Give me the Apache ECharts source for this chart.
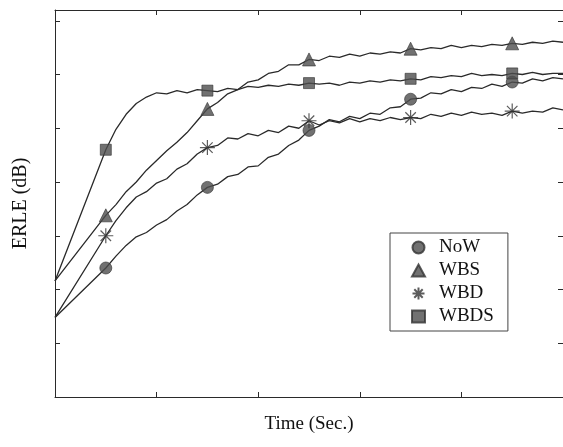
<!DOCTYPE html>
<html>
<head>
<meta charset="utf-8">
<script src="https://cdn.jsdelivr.net/npm/echarts@6/dist/echarts.min.js"></script>
<style>
  html, body { margin: 0; padding: 0; background: #fff; }
  #main { width: 563px; height: 447px; }
</style>
</head>
<body>
<div id="main"></div>
<script>
// ERLE (dB) against time (Sec.)
const markTimes = [0.5, 1.5, 2.5, 3.5, 4.5];

const now = [[0,7.4],[0.5,12.0],[0.6,13.1],[0.7,14.1],[0.8,14.9],[0.9,15.3],[1.0,16.0],[1.1,16.5],[1.2,17.3],[1.3,17.9],[1.4,18.8],[1.5,19.5],[1.6,19.8],[1.7,20.5],[1.8,20.7],[1.9,21.4],[2.0,21.5],[2.1,22.3],[2.2,22.6],[2.3,23.4],[2.4,23.9],[2.5,24.8],[2.6,25.2],[2.7,25.8],[2.8,25.6],[2.9,26.1],[3.0,25.9],[3.1,26.4],[3.2,26.3],[3.3,26.9],[3.4,27.0],[3.5,27.7],[3.6,27.8],[3.7,28.3],[3.8,28.2],[3.9,28.6],[4.0,28.4],[4.1,28.8],[4.2,28.7],[4.3,29.1],[4.4,28.9],[4.5,29.3],[4.6,29.2],[4.7,29.6],[4.8,29.4],[4.9,29.7],[5.0,29.6]];

const wbs = [[0,10.8],[0.5,16.9],[0.6,17.9],[0.7,19.1],[0.8,20.0],[0.9,21.1],[1.0,22.0],[1.1,22.9],[1.2,23.7],[1.3,24.6],[1.4,25.7],[1.5,26.8],[1.6,27.4],[1.7,28.2],[1.8,28.6],[1.9,29.3],[2.0,29.5],[2.1,30.1],[2.2,30.3],[2.3,30.9],[2.4,30.9],[2.5,31.4],[2.6,31.3],[2.7,31.7],[2.8,31.6],[2.9,31.9],[3.0,31.7],[3.1,32.0],[3.2,31.9],[3.3,32.1],[3.4,32.0],[3.5,32.4],[3.6,32.3],[3.7,32.5],[3.8,32.4],[3.9,32.7],[4.0,32.5],[4.1,32.7],[4.2,32.6],[4.3,32.8],[4.4,32.7],[4.5,32.9],[4.6,32.8],[4.7,33.0],[4.8,32.9],[4.9,33.1],[5.0,33.0]];

const wbd = [[0,7.4],[0.5,15.0],[0.6,16.4],[0.7,17.6],[0.8,18.6],[0.9,19.1],[1.0,19.9],[1.1,20.3],[1.2,21.2],[1.3,21.7],[1.4,22.6],[1.5,23.2],[1.6,23.4],[1.7,24.1],[1.8,24.0],[1.9,24.5],[2.0,24.3],[2.1,24.8],[2.2,24.6],[2.3,25.2],[2.4,25.0],[2.5,25.7],[2.6,25.3],[2.7,25.7],[2.8,25.5],[2.9,25.9],[3.0,25.6],[3.1,25.9],[3.2,25.7],[3.3,26.0],[3.4,25.8],[3.5,26.0],[3.6,25.9],[3.7,26.3],[3.8,26.1],[3.9,26.4],[4.0,26.2],[4.1,26.5],[4.2,26.3],[4.3,26.4],[4.4,26.2],[4.5,26.6],[4.6,26.4],[4.7,26.6],[4.8,26.5],[4.9,26.9],[5.0,26.7]];

const wbds = [[0,10.8],[0.5,23.0],[0.6,24.9],[0.7,26.3],[0.8,27.3],[0.9,27.9],[1.0,28.3],[1.1,28.2],[1.2,28.5],[1.3,28.3],[1.4,28.6],[1.5,28.5],[1.6,28.4],[1.7,28.7],[1.8,28.6],[1.9,28.9],[2.0,28.8],[2.1,29.0],[2.2,28.9],[2.3,29.1],[2.4,29.0],[2.5,29.2],[2.6,29.1],[2.7,29.2],[2.8,29.0],[2.9,29.3],[3.0,29.2],[3.1,29.4],[3.2,29.3],[3.3,29.5],[3.4,29.4],[3.5,29.6],[3.6,29.5],[3.7,29.8],[3.8,29.7],[3.9,29.9],[4.0,29.8],[4.1,30.1],[4.2,29.9],[4.3,30.0],[4.4,29.9],[4.5,30.1],[4.6,30.0],[4.7,30.2],[4.8,30.0],[4.9,30.1],[5.0,30.1]];

const names = ['NoW', 'WBS', 'WBD', 'WBDS'];

const font = "'Liberation Serif', 'Times New Roman', serif";
const ink = '#2a2a2a';
const starPath = 'path://M5,0L5,10M0,5L10,5M1.5,1.5L8.5,8.5M1.5,8.5L8.5,1.5';

const curves = [
  { name: 'NoW', data: now, symbol: 'circle', size: 12 },
  { name: 'WBS', data: wbs, symbol: 'triangle', size: 13 },
  { name: 'WBD', data: wbd, symbol: starPath, size: 15 },
  { name: 'WBDS', data: wbds, symbol: 'rect', size: 11 }
];

const lineSeries = curves.map(c => ({
  name: c.name + ' line',
  type: 'line',
  data: c.data,
  showSymbol: false,
  silent: true,
  lineStyle: { color: ink, width: 1.3 },
  z: 2
}));

const markSeries = curves.map(c => {
  const star = c.symbol === starPath;
  return {
    name: c.name,
    type: 'scatter',
    data: c.data.filter(p => markTimes.includes(p[0])),
    symbol: c.symbol,
    symbolSize: c.size,
    itemStyle: star
      ? { color: 'none', borderColor: '#333', borderWidth: 1.2 }
      : { color: '#4d4d4d', borderColor: '#333', borderWidth: 0.8 },
    z: 3
  };
});

const axisLine = { show: true, onZero: false, lineStyle: { color: ink, width: 1 } };
const axisTick = { show: true, inside: true, length: 5, lineStyle: { color: ink } };

const option = {
  backgroundColor: '#fff',
  animation: false,
  grid: { left: 55, top: 10, right: -4, bottom: 50 },
  legend: {
    data: names,
    orient: 'vertical',
    left: 390,
    top: 233,
    padding: [5, 14, 5, 20],
    itemWidth: 13,
    itemHeight: 12,
    itemGap: 4,
    borderColor: '#444',
    borderWidth: 1,
    textStyle: { fontFamily: font, fontSize: 19, color: '#111', padding: [0, 0, 0, 9], lineHeight: 19 }
  },
  xAxis: [
    {
      type: 'value', min: 0, max: 5, interval: 1,
      name: 'Time (Sec.)', nameLocation: 'middle', nameGap: 18,
      nameTextStyle: { fontFamily: font, fontSize: 19, color: '#111' },
      axisLine, axisTick, axisLabel: { show: false }, splitLine: { show: false }
    },
    {
      type: 'value', min: 0, max: 5, interval: 1, position: 'top',
      axisLine, axisTick, axisLabel: { show: false }, splitLine: { show: false }
    }
  ],
  yAxis: [
    {
      type: 'value', min: 0, max: 36, interval: 5,
      name: 'ERLE (dB)', nameLocation: 'middle', nameGap: 24,
      nameTextStyle: { fontFamily: font, fontSize: 20, color: '#111' },
      axisLine, axisTick, axisLabel: { show: false }, splitLine: { show: false }
    },
    {
      type: 'value', min: 0, max: 36, interval: 5, position: 'right',
      axisLine, axisTick, axisLabel: { show: false }, splitLine: { show: false }
    }
  ],
  series: lineSeries.concat(markSeries)
};

const chart = echarts.init(document.getElementById('main'));
chart.setOption(option);
</script>
</body>
</html>
